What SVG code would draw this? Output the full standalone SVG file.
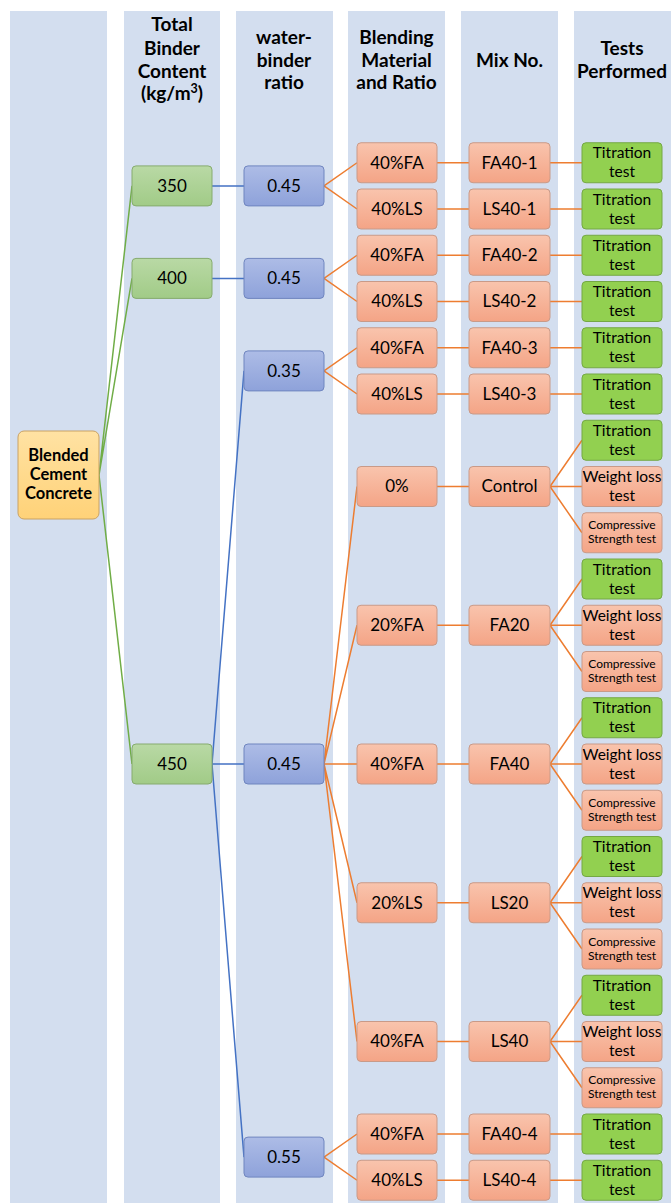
<svg xmlns="http://www.w3.org/2000/svg" width="671" height="1203" viewBox="0 0 671 1203">
<defs>
<linearGradient id="gGreen" x1="0" y1="0" x2="0" y2="1"><stop offset="0" stop-color="#b9d9a5"/><stop offset="1" stop-color="#a1cb87"/></linearGradient>
<linearGradient id="gBlue" x1="0" y1="0" x2="0" y2="1"><stop offset="0" stop-color="#adbce6"/><stop offset="1" stop-color="#8ea2da"/></linearGradient>
<linearGradient id="gOrange" x1="0" y1="0" x2="0" y2="1"><stop offset="0" stop-color="#f9c4ad"/><stop offset="1" stop-color="#f4a486"/></linearGradient>
<linearGradient id="gYellow" x1="0" y1="0" x2="0" y2="1"><stop offset="0" stop-color="#ffe2a3"/><stop offset="1" stop-color="#ffd278"/></linearGradient>
</defs>
<style>
.col{fill:#d3deef}
.hd{font-family:Lato,"Open Sans","Liberation Sans",sans-serif;font-weight:bold;font-size:19px;fill:#000;text-anchor:middle}
.t{font-family:Lato,"Open Sans","Liberation Sans",sans-serif;font-size:17px;fill:#000;text-anchor:middle}
.tt{font-family:Lato,"Open Sans","Liberation Sans",sans-serif;font-size:15.5px;fill:#000;text-anchor:middle}
.ts{font-family:Lato,"Open Sans","Liberation Sans",sans-serif;font-size:12px;fill:#000;text-anchor:middle}
.tb{font-family:Lato,"Open Sans","Liberation Sans",sans-serif;font-size:16.5px;font-weight:bold;fill:#000;text-anchor:middle}
.ng{fill:url(#gGreen);stroke:#86ab6e;stroke-width:1}
.nb{fill:url(#gBlue);stroke:#6f85bf;stroke-width:1}
.no{fill:url(#gOrange);stroke:#c99a88;stroke-width:1}
.nt{fill:#92d050;stroke:#74a844;stroke-width:1}
.ny{fill:url(#gYellow);stroke:#c9a264;stroke-width:1}
.cg{stroke:#70ad47;stroke-width:1.5;fill:none}
.cb{stroke:#4472c4;stroke-width:1.5;fill:none}
.co{stroke:#ed7d31;stroke-width:1.5;fill:none}
</style>
<rect width="671" height="1203" fill="#ffffff"/>
<g id="columns">
<rect class="col" x="10" y="11" width="97" height="1192"/>
<rect class="col" x="124" y="11" width="96" height="1192"/>
<rect class="col" x="236" y="11" width="97" height="1192"/>
<rect class="col" x="348" y="11" width="97" height="1192"/>
<rect class="col" x="461" y="11" width="97" height="1192"/>
<rect class="col" x="574" y="11" width="97" height="1192"/>
</g>
<g id="headers">
<text class="hd" x="172" y="30.5">Total</text>
<text class="hd" x="172" y="54.5">Binder</text>
<text class="hd" x="172" y="77.5">Content</text>
<text class="hd" x="172" y="99.5">(kg/m<tspan font-size="12.5" dy="-7">3</tspan><tspan dy="7">)</tspan></text>
<text class="hd" x="284" y="43.5">water-</text>
<text class="hd" x="284" y="66.5">binder</text>
<text class="hd" x="284" y="88.5">ratio</text>
<text class="hd" x="396.5" y="43.5">Blending</text>
<text class="hd" x="396.5" y="66.5">Material</text>
<text class="hd" x="396.5" y="88.5">and Ratio</text>
<text class="hd" x="509.5" y="66.5">Mix No.</text>
<text class="hd" x="622" y="54.5">Tests</text>
<text class="hd" x="622" y="77.5">Performed</text>
</g>
<g id="connectors">
<path class="cg" d="M99,475 L132,185.9 M99,475 L132,278.4 M99,475 L132,764"/>
<path class="cb" d="M212,185.9 L244,185.9 M212,278.4 L244,278.4 M212,764 L244,370.9 M212,764 L244,764 M212,764 L244,1157.1"/>
<path class="co" d="M324,185.9 L357,162.75 M324,185.9 L357,209 M324,278.4 L357,255.25 M324,278.4 L357,301.5 M324,370.9 L357,347.75 M324,370.9 L357,394 M324,764 L357,486.5 M324,764 L357,625.25 M324,764 L357,764 M324,764 L357,902.75 M324,764 L357,1041.5 M324,1157.1 L357,1134 M324,1157.1 L357,1180.25"/>
<path class="co" d="M437,162.75 L469,162.75 M437,209 L469,209 M437,255.25 L469,255.25 M437,301.5 L469,301.5 M437,347.75 L469,347.75 M437,394 L469,394 M437,486.5 L469,486.5 M437,625.25 L469,625.25 M437,764 L469,764 M437,902.75 L469,902.75 M437,1041.5 L469,1041.5 M437,1134 L469,1134 M437,1180.25 L469,1180.25"/>
<path class="co" d="M550,162.75 L582,162.75 M550,209 L582,209 M550,255.25 L582,255.25 M550,301.5 L582,301.5 M550,347.75 L582,347.75 M550,394 L582,394 M550,486.5 L582,440.25 M550,486.5 L582,486.5 M550,486.5 L582,532.75 M550,625.25 L582,579 M550,625.25 L582,625.25 M550,625.25 L582,671.5 M550,764 L582,717.75 M550,764 L582,764 M550,764 L582,810.25 M550,902.75 L582,856.5 M550,902.75 L582,902.75 M550,902.75 L582,949 M550,1041.5 L582,995.25 M550,1041.5 L582,1041.5 M550,1041.5 L582,1087.75 M550,1134 L582,1134 M550,1180.25 L582,1180.25"/>
</g>
<g id="n-blended"><rect class="ny" x="18" y="431" width="81" height="88" rx="6"/><text class="tb" x="58.5" y="461">Blended</text><text class="tb" x="58.5" y="480">Cement</text><text class="tb" x="58.5" y="499">Concrete</text></g>
<g id="n-350"><rect class="ng" x="132" y="165.9" width="80" height="40" rx="4"/><text class="t" x="172" y="191.8">350</text></g>
<g id="n-400"><rect class="ng" x="132" y="258.4" width="80" height="40" rx="4"/><text class="t" x="172" y="284.3">400</text></g>
<g id="n-450"><rect class="ng" x="132" y="744" width="80" height="40" rx="4"/><text class="t" x="172" y="769.9">450</text></g>
<g id="n-wb1"><rect class="nb" x="244" y="165.9" width="80" height="40" rx="4"/><text class="t" x="284" y="191.8">0.45</text></g>
<g id="n-wb2"><rect class="nb" x="244" y="258.4" width="80" height="40" rx="4"/><text class="t" x="284" y="284.3">0.45</text></g>
<g id="n-wb3"><rect class="nb" x="244" y="350.9" width="80" height="40" rx="4"/><text class="t" x="284" y="376.8">0.35</text></g>
<g id="n-wb4"><rect class="nb" x="244" y="744" width="80" height="40" rx="4"/><text class="t" x="284" y="769.9">0.45</text></g>
<g id="n-wb5"><rect class="nb" x="244" y="1137.1" width="80" height="40" rx="4"/><text class="t" x="284" y="1163">0.55</text></g>
<g id="n-bm0"><rect class="no" x="357" y="142.75" width="80" height="40" rx="4"/><text class="t" x="397" y="168.65">40%FA</text></g>
<g id="n-bm1"><rect class="no" x="357" y="189" width="80" height="40" rx="4"/><text class="t" x="397" y="214.9">40%LS</text></g>
<g id="n-bm2"><rect class="no" x="357" y="235.25" width="80" height="40" rx="4"/><text class="t" x="397" y="261.15">40%FA</text></g>
<g id="n-bm3"><rect class="no" x="357" y="281.5" width="80" height="40" rx="4"/><text class="t" x="397" y="307.4">40%LS</text></g>
<g id="n-bm4"><rect class="no" x="357" y="327.75" width="80" height="40" rx="4"/><text class="t" x="397" y="353.65">40%FA</text></g>
<g id="n-bm5"><rect class="no" x="357" y="374" width="80" height="40" rx="4"/><text class="t" x="397" y="399.9">40%LS</text></g>
<g id="n-bm7"><rect class="no" x="357" y="466.5" width="80" height="40" rx="4"/><text class="t" x="397" y="492.4">0%</text></g>
<g id="n-bm10"><rect class="no" x="357" y="605.25" width="80" height="40" rx="4"/><text class="t" x="397" y="631.15">20%FA</text></g>
<g id="n-bm13"><rect class="no" x="357" y="744" width="80" height="40" rx="4"/><text class="t" x="397" y="769.9">40%FA</text></g>
<g id="n-bm16"><rect class="no" x="357" y="882.75" width="80" height="40" rx="4"/><text class="t" x="397" y="908.65">20%LS</text></g>
<g id="n-bm19"><rect class="no" x="357" y="1021.5" width="80" height="40" rx="4"/><text class="t" x="397" y="1047.4">40%FA</text></g>
<g id="n-bm21"><rect class="no" x="357" y="1114" width="80" height="40" rx="4"/><text class="t" x="397" y="1139.9">40%FA</text></g>
<g id="n-bm22"><rect class="no" x="357" y="1160.25" width="80" height="40" rx="4"/><text class="t" x="397" y="1186.15">40%LS</text></g>
<g id="n-mx0"><rect class="no" x="469" y="142.75" width="81" height="40" rx="4"/><text class="t" x="509.5" y="168.65">FA40-1</text></g>
<g id="n-mx1"><rect class="no" x="469" y="189" width="81" height="40" rx="4"/><text class="t" x="509.5" y="214.9">LS40-1</text></g>
<g id="n-mx2"><rect class="no" x="469" y="235.25" width="81" height="40" rx="4"/><text class="t" x="509.5" y="261.15">FA40-2</text></g>
<g id="n-mx3"><rect class="no" x="469" y="281.5" width="81" height="40" rx="4"/><text class="t" x="509.5" y="307.4">LS40-2</text></g>
<g id="n-mx4"><rect class="no" x="469" y="327.75" width="81" height="40" rx="4"/><text class="t" x="509.5" y="353.65">FA40-3</text></g>
<g id="n-mx5"><rect class="no" x="469" y="374" width="81" height="40" rx="4"/><text class="t" x="509.5" y="399.9">LS40-3</text></g>
<g id="n-mx7"><rect class="no" x="469" y="466.5" width="81" height="40" rx="4"/><text class="t" x="509.5" y="492.4">Control</text></g>
<g id="n-mx10"><rect class="no" x="469" y="605.25" width="81" height="40" rx="4"/><text class="t" x="509.5" y="631.15">FA20</text></g>
<g id="n-mx13"><rect class="no" x="469" y="744" width="81" height="40" rx="4"/><text class="t" x="509.5" y="769.9">FA40</text></g>
<g id="n-mx16"><rect class="no" x="469" y="882.75" width="81" height="40" rx="4"/><text class="t" x="509.5" y="908.65">LS20</text></g>
<g id="n-mx19"><rect class="no" x="469" y="1021.5" width="81" height="40" rx="4"/><text class="t" x="509.5" y="1047.4">LS40</text></g>
<g id="n-mx21"><rect class="no" x="469" y="1114" width="81" height="40" rx="4"/><text class="t" x="509.5" y="1139.9">FA40-4</text></g>
<g id="n-mx22"><rect class="no" x="469" y="1160.25" width="81" height="40" rx="4"/><text class="t" x="509.5" y="1186.15">LS40-4</text></g>
<g id="n-ts0"><rect class="nt" x="582" y="142.75" width="80" height="40" rx="4"/><text class="tt" x="622" y="158.25">Titration</text><text class="tt" x="622" y="177.25">test</text></g>
<g id="n-ts1"><rect class="nt" x="582" y="189" width="80" height="40" rx="4"/><text class="tt" x="622" y="204.5">Titration</text><text class="tt" x="622" y="223.5">test</text></g>
<g id="n-ts2"><rect class="nt" x="582" y="235.25" width="80" height="40" rx="4"/><text class="tt" x="622" y="250.75">Titration</text><text class="tt" x="622" y="269.75">test</text></g>
<g id="n-ts3"><rect class="nt" x="582" y="281.5" width="80" height="40" rx="4"/><text class="tt" x="622" y="297">Titration</text><text class="tt" x="622" y="316">test</text></g>
<g id="n-ts4"><rect class="nt" x="582" y="327.75" width="80" height="40" rx="4"/><text class="tt" x="622" y="343.25">Titration</text><text class="tt" x="622" y="362.25">test</text></g>
<g id="n-ts5"><rect class="nt" x="582" y="374" width="80" height="40" rx="4"/><text class="tt" x="622" y="389.5">Titration</text><text class="tt" x="622" y="408.5">test</text></g>
<g id="n-ts6"><rect class="nt" x="582" y="420.25" width="80" height="40" rx="4"/><text class="tt" x="622" y="435.75">Titration</text><text class="tt" x="622" y="454.75">test</text></g>
<g id="n-ts7"><rect class="no" x="582" y="466.5" width="80" height="40" rx="4"/><text class="tt" x="622" y="482">Weight loss</text><text class="tt" x="622" y="501">test</text></g>
<g id="n-ts8"><rect class="no" x="582" y="512.75" width="80" height="40" rx="4"/><text class="ts" x="622" y="529.25">Compressive</text><text class="ts" x="622" y="543.25">Strength test</text></g>
<g id="n-ts9"><rect class="nt" x="582" y="559" width="80" height="40" rx="4"/><text class="tt" x="622" y="574.5">Titration</text><text class="tt" x="622" y="593.5">test</text></g>
<g id="n-ts10"><rect class="no" x="582" y="605.25" width="80" height="40" rx="4"/><text class="tt" x="622" y="620.75">Weight loss</text><text class="tt" x="622" y="639.75">test</text></g>
<g id="n-ts11"><rect class="no" x="582" y="651.5" width="80" height="40" rx="4"/><text class="ts" x="622" y="668">Compressive</text><text class="ts" x="622" y="682">Strength test</text></g>
<g id="n-ts12"><rect class="nt" x="582" y="697.75" width="80" height="40" rx="4"/><text class="tt" x="622" y="713.25">Titration</text><text class="tt" x="622" y="732.25">test</text></g>
<g id="n-ts13"><rect class="no" x="582" y="744" width="80" height="40" rx="4"/><text class="tt" x="622" y="759.5">Weight loss</text><text class="tt" x="622" y="778.5">test</text></g>
<g id="n-ts14"><rect class="no" x="582" y="790.25" width="80" height="40" rx="4"/><text class="ts" x="622" y="806.75">Compressive</text><text class="ts" x="622" y="820.75">Strength test</text></g>
<g id="n-ts15"><rect class="nt" x="582" y="836.5" width="80" height="40" rx="4"/><text class="tt" x="622" y="852">Titration</text><text class="tt" x="622" y="871">test</text></g>
<g id="n-ts16"><rect class="no" x="582" y="882.75" width="80" height="40" rx="4"/><text class="tt" x="622" y="898.25">Weight loss</text><text class="tt" x="622" y="917.25">test</text></g>
<g id="n-ts17"><rect class="no" x="582" y="929" width="80" height="40" rx="4"/><text class="ts" x="622" y="945.5">Compressive</text><text class="ts" x="622" y="959.5">Strength test</text></g>
<g id="n-ts18"><rect class="nt" x="582" y="975.25" width="80" height="40" rx="4"/><text class="tt" x="622" y="990.75">Titration</text><text class="tt" x="622" y="1009.75">test</text></g>
<g id="n-ts19"><rect class="no" x="582" y="1021.5" width="80" height="40" rx="4"/><text class="tt" x="622" y="1037">Weight loss</text><text class="tt" x="622" y="1056">test</text></g>
<g id="n-ts20"><rect class="no" x="582" y="1067.75" width="80" height="40" rx="4"/><text class="ts" x="622" y="1084.25">Compressive</text><text class="ts" x="622" y="1098.25">Strength test</text></g>
<g id="n-ts21"><rect class="nt" x="582" y="1114" width="80" height="40" rx="4"/><text class="tt" x="622" y="1129.5">Titration</text><text class="tt" x="622" y="1148.5">test</text></g>
<g id="n-ts22"><rect class="nt" x="582" y="1160.25" width="80" height="40" rx="4"/><text class="tt" x="622" y="1175.75">Titration</text><text class="tt" x="622" y="1194.75">test</text></g>
</svg>
